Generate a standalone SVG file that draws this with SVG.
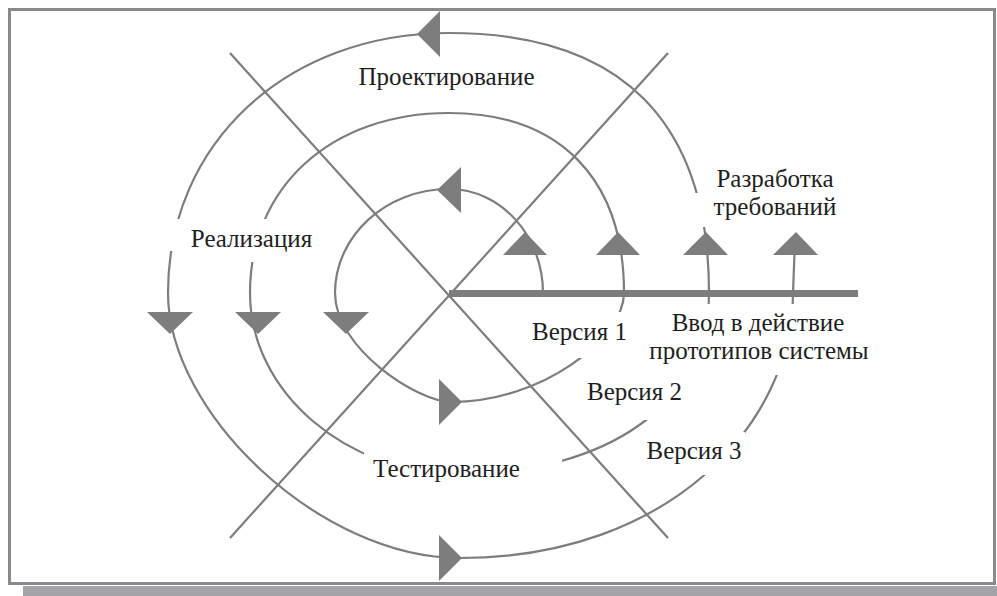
<svg xmlns="http://www.w3.org/2000/svg" width="997" height="596" viewBox="0 0 997 596">
<style>
.ln{fill:none;stroke:#7d7d7d;stroke-width:2.2;stroke-linecap:butt}
.ax{fill:none;stroke:#7d7d7d;stroke-width:7}
.ah{fill:#7d7d7d}
.t{font-family:"Liberation Serif","Times New Roman",serif;font-size:25px;fill:#1e1e1e;text-anchor:middle}
</style>
<defs>
<mask id="gaps" maskUnits="userSpaceOnUse" x="0" y="0" width="997" height="596">
<rect x="0" y="0" width="997" height="596" fill="#fff"/>
<rect x="530" y="312" width="100" height="46" fill="#000"/>
<rect x="640" y="304" width="235" height="71" fill="#000"/>
<rect x="580" y="366" width="120" height="54" fill="#000"/>
<rect x="645" y="432" width="100" height="43" fill="#000"/>
<rect x="364" y="440" width="198" height="50" fill="#000"/>
<rect x="160" y="219" width="40" height="32" fill="#000"/>
<rect x="240" y="219" width="50" height="43" fill="#000"/>
<rect x="690" y="193" width="30" height="34" fill="#000"/>
</mask>
</defs>
<rect width="997" height="596" fill="#fff"/>
<g id="frame">
<rect x="23" y="586" width="974" height="10" fill="#a4a4a6"/>
<rect x="9.5" y="9.5" width="985" height="574" fill="#fff" stroke="#8a8a8a" stroke-width="3"/>
</g>
<g id="connectors">
<line class="ln" x1="230" y1="53" x2="668" y2="538"/>
<line class="ln" x1="668" y1="53" x2="230" y2="538"/>
<line class="ax" x1="449" y1="293.5" x2="858" y2="293.5"/>
<path class="ln" mask="url(#gaps)" d="M543,293 C543,236 501,189 449,189 C386,189 335,236 335,293 C335,348 417,402 452,402 C542,402 624,338 624,293 C624,178 559,113 449,113 C331,113 250,187 250,293 C250,393 348,474 458,474 C608,474 709,403 709,293 C709,121 621,33 449,33 C287,33 168,143 168,293 C168,413 320,558 460,558 C670,558 793,423 793,293 L795,240"/>
</g>
<g id="arrows">
<polygon class="ah" points="503,255 547,255 525,232"/>
<polygon class="ah" points="596,255 640,255 618,232"/>
<polygon class="ah" points="683,255 728,255 706,232"/>
<polygon class="ah" points="773,255 818,255 796,232"/>
<polygon class="ah" points="147,312 193,312 170,334"/>
<polygon class="ah" points="235,312 281,312 258,334"/>
<polygon class="ah" points="323,312 369,312 346,334"/>
<polygon class="ah" points="440,11 440,57 417,34"/>
<polygon class="ah" points="461,167 461,213 437,190"/>
<polygon class="ah" points="439,379 439,425 462,402"/>
<polygon class="ah" points="439,535 439,581 462,558"/>
</g>
<g id="label-proektirovanie"><text class="t" x="446.5" y="85">Проектирование</text></g>
<g id="label-realizatsiya"><text class="t" x="251.5" y="247">Реализация</text></g>
<g id="label-razrabotka"><text class="t" x="775" y="187">Разработка</text><text class="t" x="775" y="215">требований</text></g>
<g id="label-versiya1"><text class="t" x="579.5" y="340">Версия 1</text></g>
<g id="label-vvod"><text class="t" x="758" y="331">Ввод в действие</text><text class="t" x="759" y="359">прототипов системы</text></g>
<g id="label-versiya2"><text class="t" x="634.5" y="400">Версия 2</text></g>
<g id="label-versiya3"><text class="t" x="694" y="459">Версия 3</text></g>
<g id="label-testirovanie"><text class="t" x="446.5" y="477">Тестирование</text></g>
</svg>
